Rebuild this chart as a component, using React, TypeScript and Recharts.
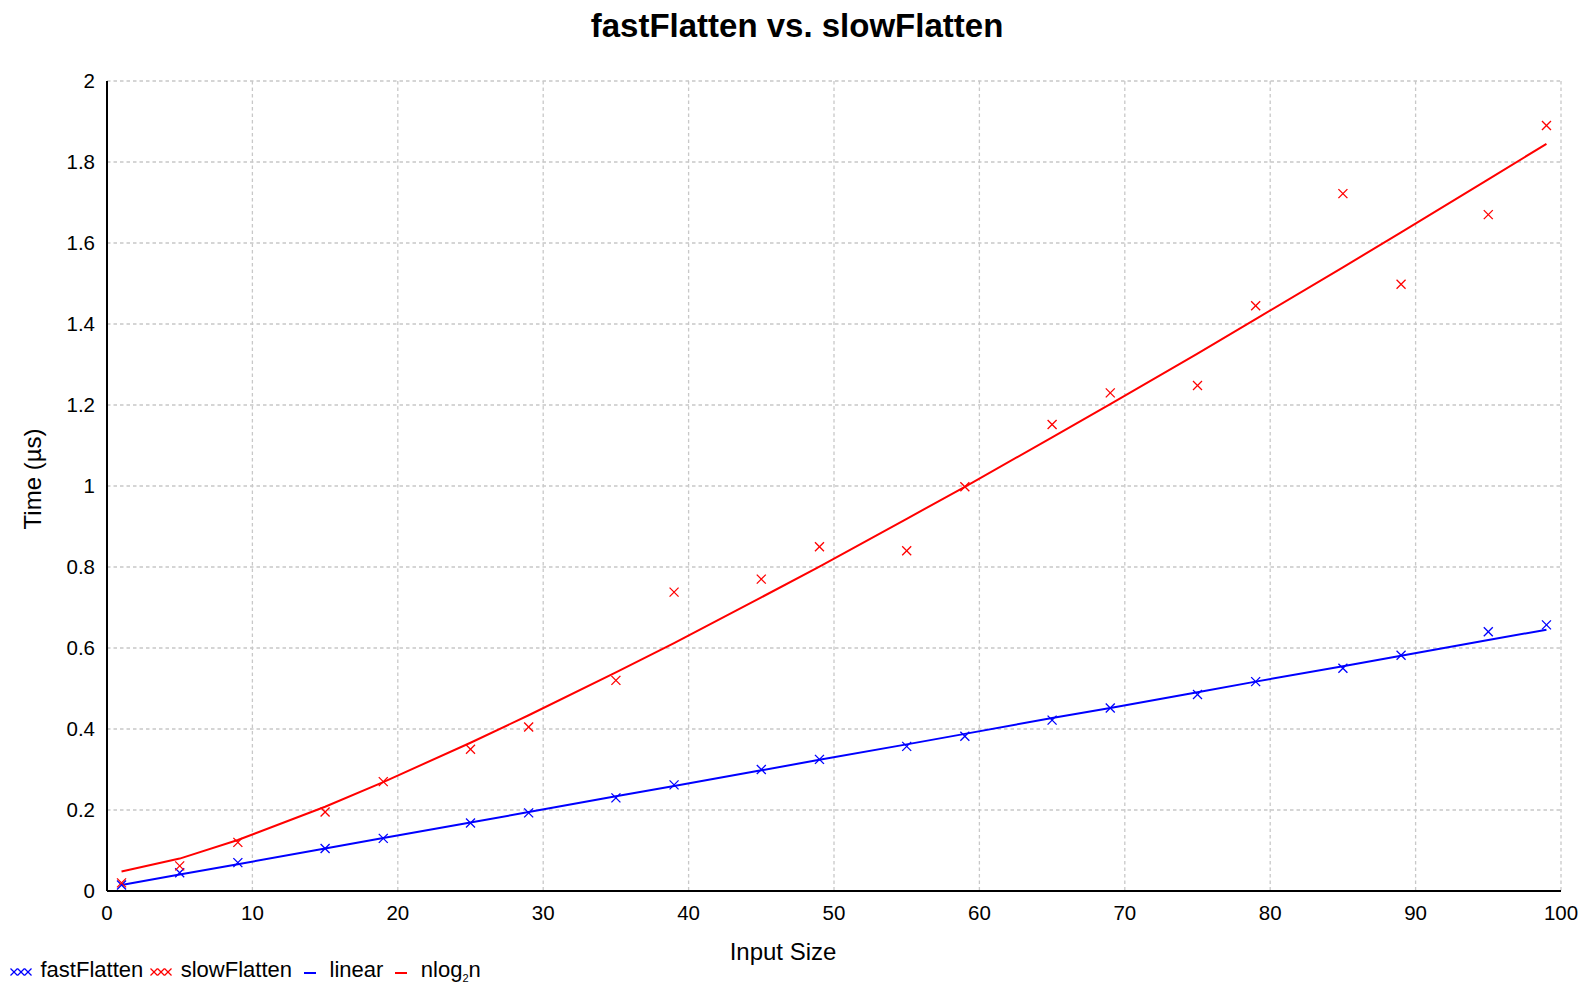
import React from "react";
import {
  ComposedChart,
  Line,
  Scatter,
  XAxis,
  YAxis,
  CartesianGrid,
} from "recharts";

// input sizes that were benchmarked
const sizes = [1, 5, 9, 15, 19, 25, 29, 35, 39, 45, 49, 55, 59, 65, 69, 75, 79, 85, 89, 95, 99];

// measured times (µs)
const fastTimes = [
  0.015, 0.045, 0.07, 0.105, 0.13, 0.168, 0.193, 0.23, 0.262, 0.3, 0.325,
  0.357, 0.382, 0.422, 0.452, 0.485, 0.517, 0.55, 0.582, 0.64, 0.657,
];
const slowTimes = [
  0.02, 0.062, 0.12, 0.195, 0.27, 0.35, 0.405, 0.52, 0.738, 0.77, 0.85,
  0.84, 0.998, 1.152, 1.23, 1.248, 1.445, 1.722, 1.498, 1.67, 1.89,
];

// fitted curves
const linearFit = [
  0.015, 0.041, 0.066, 0.105, 0.131, 0.169, 0.195, 0.234, 0.259, 0.298, 0.324,
  0.362, 0.388, 0.427, 0.452, 0.491, 0.517, 0.555, 0.581, 0.62, 0.645,
];
const nlognFit = [
  0.048, 0.08, 0.126, 0.208, 0.269, 0.366, 0.434, 0.54, 0.612, 0.725, 0.801,
  0.919, 0.998, 1.12, 1.202, 1.327, 1.412, 1.54, 1.626, 1.757, 1.845,
];

const xTicks = [0, 10, 20, 30, 40, 50, 60, 70, 80, 90, 100];
const yTicks = [0, 0.2, 0.4, 0.6, 0.8, 1, 1.2, 1.4, 1.6, 1.8, 2];
const xMinorTicks = Array.from({ length: 101 }, (_, i) => i);
const yMinorTicks = Array.from({ length: 101 }, (_, i) => +(i * 0.02).toFixed(2));

const BLUE = "#0000ff";
const RED = "#ff0000";
const FONT = "'Liberation Sans', Arial, Helvetica, sans-serif";

const data = sizes.map((n, i) => ({
  n,
  fast: fastTimes[i],
  slow: slowTimes[i],
  lin: linearFit[i],
  nlogn: nlognFit[i],
}));

const cross = (color: string) => (props: any) => {
  const { cx, cy } = props;
  if (cx == null || cy == null) return <g />;
  const r = 4.5;
  return (
    <g stroke={color} strokeWidth={1.3}>
      <line x1={cx - r} y1={cy - r} x2={cx + r} y2={cy + r} />
      <line x1={cx - r} y1={cy + r} x2={cx + r} y2={cy - r} />
    </g>
  );
};

function CrossIcon({ color }: { color: string }) {
  return (
    <svg width={22} height={22} style={{ display: "block" }}>
      {[4, 11, 18].map((x) => (
        <g key={x} stroke={color} strokeWidth={1.2}>
          <line x1={x - 3.5} y1={9.5} x2={x + 3.5} y2={16.5} />
          <line x1={x - 3.5} y1={16.5} x2={x + 3.5} y2={9.5} />
        </g>
      ))}
    </svg>
  );
}

function DashIcon({ color }: { color: string }) {
  return (
    <svg width={22} height={22} style={{ display: "block" }}>
      <line x1={5} y1={14} x2={17} y2={14} stroke={color} strokeWidth={2} />
    </svg>
  );
}

const legendItems = [
  { icon: <CrossIcon color={BLUE} />, label: <>fastFlatten</> },
  { icon: <CrossIcon color={RED} />, label: <>slowFlatten</> },
  { icon: <DashIcon color={BLUE} />, label: <>linear</> },
  {
    icon: <DashIcon color={RED} />,
    label: (
      <>
        nlog<span style={{ fontSize: 11, position: "relative", top: 5 }}>2</span>n
      </>
    ),
  },
];

export default function App() {
  const tickStyle = { fontSize: 20.5, fill: "#000", fontFamily: FONT };
  return (
    <div
      style={{
        position: "absolute",
        left: 0,
        top: 0,
        width: 1587,
        height: 987,
        background: "#fff",
        fontFamily: FONT,
      }}
    >
      <ComposedChart
        width={1587}
        height={987}
        data={data}
        margin={{ top: 81, right: 26, bottom: 56, left: 0 }}
      >
        <CartesianGrid
          stroke="#c8c8c8"
          strokeWidth={1.3}
          strokeDasharray="3.5 3"
          horizontalValues={yTicks}
          verticalValues={xTicks}
        />
        <XAxis
          xAxisId="minor"
          type="number"
          dataKey="n"
          domain={[0, 100]}
          ticks={xMinorTicks}
          mirror
          height={0}
          tick={false}
          tickSize={3}
          tickLine={{ stroke: "#000", strokeWidth: 1 }}
          axisLine={false}
          allowDataOverflow
        />
        <XAxis
          type="number"
          dataKey="n"
          domain={[0, 100]}
          ticks={xTicks}
          height={40}
          tick={tickStyle}
          tickLine={false}
          tickSize={4}
          tickMargin={10}
          axisLine={{ stroke: "#000", strokeWidth: 2 }}
          allowDataOverflow
        />
        <YAxis
          yAxisId="minor"
          type="number"
          domain={[0, 2]}
          ticks={yMinorTicks}
          mirror
          width={0}
          tick={false}
          tickSize={3}
          tickLine={{ stroke: "#000", strokeWidth: 1 }}
          axisLine={false}
          allowDataOverflow
        />
        <YAxis
          type="number"
          domain={[0, 2]}
          ticks={yTicks}
          width={107}
          tick={tickStyle}
          tickLine={false}
          tickSize={4}
          tickMargin={8}
          axisLine={{ stroke: "#000", strokeWidth: 2 }}
          allowDataOverflow
        />
        <Line
          type="linear"
          dataKey="lin"
          stroke={BLUE}
          strokeWidth={2}
          dot={false}
          activeDot={false}
          isAnimationActive={false}
        />
        <Line
          type="linear"
          dataKey="nlogn"
          stroke={RED}
          strokeWidth={2}
          dot={false}
          activeDot={false}
          isAnimationActive={false}
        />
        <Scatter dataKey="fast" shape={cross(BLUE)} isAnimationActive={false} />
        <Scatter dataKey="slow" shape={cross(RED)} isAnimationActive={false} />
      </ComposedChart>

      <svg
        width={1587}
        height={987}
        style={{ position: "absolute", left: 0, top: 0, pointerEvents: "none" }}
        fontFamily={FONT}
      >
        <text x={797} y={37} textAnchor="middle" fontSize={33} fontWeight="bold">
          fastFlatten vs. slowFlatten
        </text>
        <text x={783} y={960} textAnchor="middle" fontSize={24}>
          Input Size
        </text>
        <text
          x={0}
          y={0}
          textAnchor="middle"
          fontSize={24}
          transform="translate(41 479) rotate(-90)"
        >
          Time (µs)
        </text>
      </svg>

      <div
        style={{
          position: "absolute",
          left: 10,
          top: 959,
          display: "flex",
          alignItems: "flex-start",
          fontSize: 22,
          lineHeight: "22px",
          whiteSpace: "nowrap",
        }}
      >
        {legendItems.map((item, i) => (
          <div key={i} style={{ display: "flex", alignItems: "flex-start", marginRight: 7 }}>
            {item.icon}
            <span style={{ marginLeft: 8.5 }}>{item.label}</span>
          </div>
        ))}
      </div>
    </div>
  );
}
